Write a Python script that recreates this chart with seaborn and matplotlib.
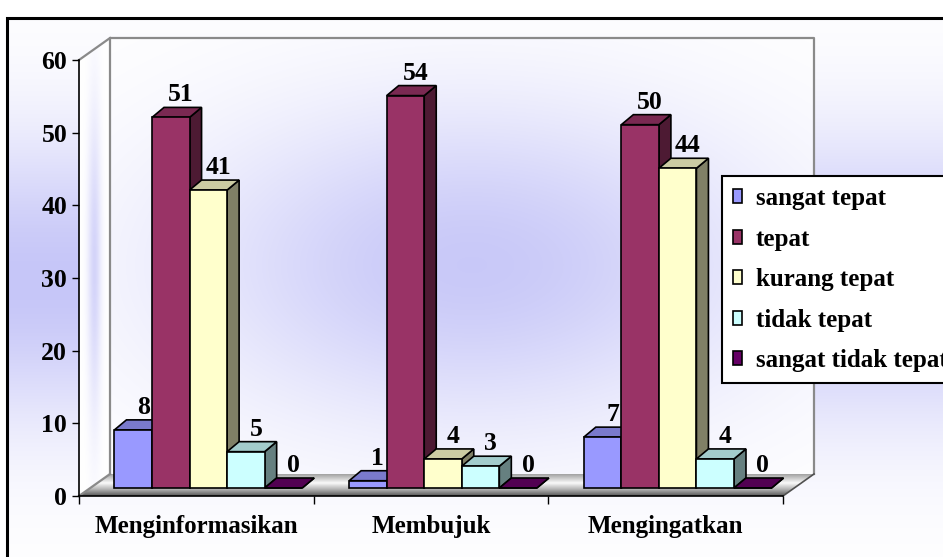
import numpy as np
import pandas as pd
import matplotlib
matplotlib.use("Agg")
import matplotlib.pyplot as plt
import matplotlib.transforms as mtransforms
from matplotlib.patches import Polygon, Patch
from matplotlib.colors import to_rgb
import seaborn as sns

# ---- data -------------------------------------------------------------
categories = ["Menginformasikan", "Membujuk", "Mengingatkan"]
levels = ["sangat tepat", "tepat", "kurang tepat", "tidak tepat", "sangat tidak tepat"]
sangat_tepat = [8, 1, 7]
tepat = [51, 54, 50]
kurang_tepat = [41, 4, 44]
tidak_tepat = [5, 3, 4]
sangat_tidak_tepat = [0, 0, 0]
colors = ["#9999FF", "#993366", "#FFFFCC", "#CCFFFF", "#660066"]
y_ticks = [0, 10, 20, 30, 40, 50, 60]

series = [sangat_tepat, tepat, kurang_tepat, tidak_tepat, sangat_tidak_tepat]
df = pd.DataFrame(
    [(cat, lvl, vals[i]) for lvl, vals in zip(levels, series) for i, cat in enumerate(categories)],
    columns=["kategori", "penilaian", "jumlah"],
)

# ---- figure -----------------------------------------------------------
W, H, DPI = 943, 557, 100
FONT = "Liberation Serif"
plt.rcParams["font.family"] = [FONT, "DejaVu Serif"]
plt.rcParams["font.weight"] = "bold"

fig = plt.figure(figsize=(W / DPI, H / DPI), dpi=DPI)
fig.patch.set_facecolor("white")

bg = fig.add_axes([0, 0, 1, 1], zorder=0)
bg.set_xlim(0, W)
bg.set_ylim(0, H)
bg.axis("off")

ax = fig.add_axes([79 / W, (H - 496) / H, 704 / W, 436 / H], zorder=1)
ax.patch.set_alpha(0)

white = np.array([1.0, 1.0, 1.0])
lav = np.array(to_rgb("#c6c6f8"))

# chart-area background: vertical band of lavender fading to white
rows = np.arange(H)[:, None]
cols = np.arange(W)[None, :]
t = np.exp(-((rows - 280) / 144.0) ** 2) * np.ones((1, W))
img = white[None, None, :] * (1 - t[..., None]) + lav[None, None, :] * t[..., None]
outside = (rows < 18) | (cols < 7)
img[np.broadcast_to(outside, (H, W))] = 1.0
bg.imshow(img, extent=(0, W, 0, H), origin="upper", zorder=0, interpolation="bilinear")
bg.plot([7, 7, W + 5], [-5, H - 18, H - 18], color="black", lw=2.2, zorder=1,
        solid_joinstyle="miter")

# ---- bars -------------------------------------------------------------
sns.barplot(
    data=df, x="kategori", y="jumlah", hue="penilaian",
    order=categories, hue_order=levels, palette=colors, saturation=1,
    width=0.8, edgecolor="black", linewidth=1.2, legend=False, ax=ax,
)
ax.set_xlim(-0.5, len(categories) - 0.5)
ax.set_ylim(0, 60)

# ---- walls and floor (display pixels) ---------------------------------
T = ax.transData
wall_off = np.array([31.0, 22.0])
p0 = T.transform((-0.5, 0))
p1 = T.transform((len(categories) - 0.5, 0))
q0 = T.transform((-0.5, 60))
q1 = T.transform((len(categories) - 0.5, 60))

back = np.array([p0 + wall_off, p1 + wall_off, q1 + wall_off, q0 + wall_off])
left = np.array([p0, q0, q0 + wall_off, p0 + wall_off])
floor = np.array([p0, p1, p1 + wall_off, p0 + wall_off])


def gradient_fill(poly, colour_fn, z):
    xmin, ymin = poly.min(axis=0)
    xmax, ymax = poly.max(axis=0)
    nx, ny = int(xmax - xmin) + 2, int(ymax - ymin) + 2
    xs = np.linspace(xmin, xmax, nx)[None, :]
    ys = np.linspace(ymax, ymin, ny)[:, None]
    im = colour_fn(xs * np.ones_like(ys), ys * np.ones_like(xs))
    clip = Polygon(poly, closed=True, transform=bg.transData, facecolor="none", edgecolor="none")
    bg.add_patch(clip)
    art = bg.imshow(im, extent=(xmin, xmax, ymin, ymax), origin="upper", zorder=z,
                    interpolation="bilinear")
    art.set_clip_path(clip)


def back_colour(x, y):
    xc = (back[0, 0] + back[1, 0]) / 2 + 10
    yc = H - 265
    w = np.exp(-((x - xc) / 290.0) ** 2 - ((y - yc) / 160.0) ** 2) * 0.95
    return white * (1 - w[..., None]) + lav * w[..., None]


def left_colour(x, y):
    u = (x - p0[0]) / wall_off[0]
    a = np.exp(-((u - 0.5) / 0.22) ** 2)
    b = np.exp(-((y - (H - 265)) / 150.0) ** 2)
    w = a * b * 0.75
    return white * (1 - w[..., None]) + lav * w[..., None]


floor_stops = np.array([0.0, 0.3, 0.6, 1.0])
floor_cols = np.array([to_rgb("#5a5a5a"), to_rgb("#b4b4b4"), to_rgb("#fafafa"), to_rgb("#a4a4a4")])


def floor_colour(x, y):
    d = np.clip((y - p0[1]) / wall_off[1], 0, 1)
    out = np.zeros(d.shape + (3,))
    for k in range(3):
        out[..., k] = np.interp(d, floor_stops, floor_cols[:, k])
    return out


gradient_fill(back, back_colour, 2)
gradient_fill(left, left_colour, 2)
gradient_fill(floor, floor_colour, 3)

edge = dict(color="#8a8a8a", lw=1.6, zorder=4)
bg.plot([back[0, 0], back[3, 0], back[2, 0], back[1, 0]],
        [back[0, 1], back[3, 1], back[2, 1], back[1, 1]], **edge)
bg.plot([q0[0], q0[0] + wall_off[0]], [q0[1], q0[1] + wall_off[1]], **edge)
bg.plot([p0[0], p0[0] + wall_off[0]], [p0[1], p0[1] + wall_off[1]], **edge)
bg.plot([p1[0], p1[0] + wall_off[0]], [p1[1], p1[1] + wall_off[1]], color="#505050", lw=1.2, zorder=4)

# ---- 3-D bar faces ----------------------------------------------------
front_shift = mtransforms.ScaledTranslation(12 / DPI, 8 / DPI, fig.dpi_scale_trans)
bar_trans = ax.transData + front_shift
depth = np.array([12.0, 10.0])
ident = mtransforms.IdentityTransform()

bars = sorted(ax.patches, key=lambda p: p.get_x())
for i, bar in enumerate(bars):
    base = np.array(bar.get_facecolor()[:3])
    bx, bw, bh = bar.get_x(), bar.get_width(), bar.get_height()
    bar.set_transform(bar_trans)
    bar.set_clip_on(False)
    bar.set_zorder(10 + 3 * i + 2)
    (x0, y0), (x1, y1) = bar_trans.transform([(bx, 0), (bx + bw, bh)])
    dx, dy = depth
    top = [(x0, y1), (x1, y1), (x1 + dx, y1 + dy), (x0 + dx, y1 + dy)]
    side = [(x1, y0), (x1, y1), (x1 + dx, y1 + dy), (x1 + dx, y0 + dy)]
    ax.add_patch(Polygon(side, closed=True, transform=ident, facecolor=base * 0.5,
                         edgecolor="black", lw=1.2, zorder=10 + 3 * i, clip_on=False))
    ax.add_patch(Polygon(top, closed=True, transform=ident, facecolor=base * 0.8,
                         edgecolor="black", lw=1.2, zorder=10 + 3 * i + 1, clip_on=False,
                         joinstyle="miter"))
    ax.annotate(f"{bh:g}", xy=(bx + bw / 2, bh), xycoords=bar_trans,
                xytext=(10 * 0.72, 16 * 0.72), textcoords="offset points",
                ha="center", va="baseline", fontsize=18.5, fontweight="bold",
                family=FONT, zorder=100, annotation_clip=False)

# ---- axes styling -----------------------------------------------------
for s in ("top", "right"):
    ax.spines[s].set_visible(False)
for s in ("left", "bottom"):
    ax.spines[s].set_color("black")
    ax.spines[s].set_linewidth(1.2)
    ax.spines[s].set_zorder(6)
ax.set_xlabel("")
ax.set_ylabel("")
ax.set_yticks(y_ticks)
ax.set_yticklabels([str(v) for v in y_ticks], fontsize=18.5, fontweight="bold", family=FONT)
ax.tick_params(axis="y", direction="out", length=5, width=1, pad=3.5, color="black")
ax.set_xticks(range(len(categories)))
ax.set_xticklabels(categories, fontsize=18, fontweight="bold", family=FONT)
ax.tick_params(axis="x", which="major", length=0, pad=14)
ax.set_xticks(np.arange(len(categories) + 1) - 0.5, minor=True)
ax.tick_params(axis="x", which="minor", direction="out", length=5.5, width=1, color="black")
ax.grid(False)

# ---- legend -----------------------------------------------------------
handles = [Patch(facecolor=c, edgecolor="black", linewidth=1.2, label=l) for c, l in zip(colors, levels)]
leg = fig.legend(
    handles=handles, loc="upper left", bbox_to_anchor=(722 / W, 1 - 176 / H),
    bbox_transform=fig.transFigure, frameon=True, fancybox=False, shadow=False,
    edgecolor="black", facecolor="white", framealpha=1, borderpad=0.45, borderaxespad=0,
    handlelength=0.34, handleheight=0.48, handletextpad=0.55, labelspacing=0.7,
    prop=dict(family=FONT, weight="bold", size=18),
)
leg.get_frame().set_linewidth(1.5)
leg.set_zorder(50)

fig.savefig("out.png", dpi=DPI)
